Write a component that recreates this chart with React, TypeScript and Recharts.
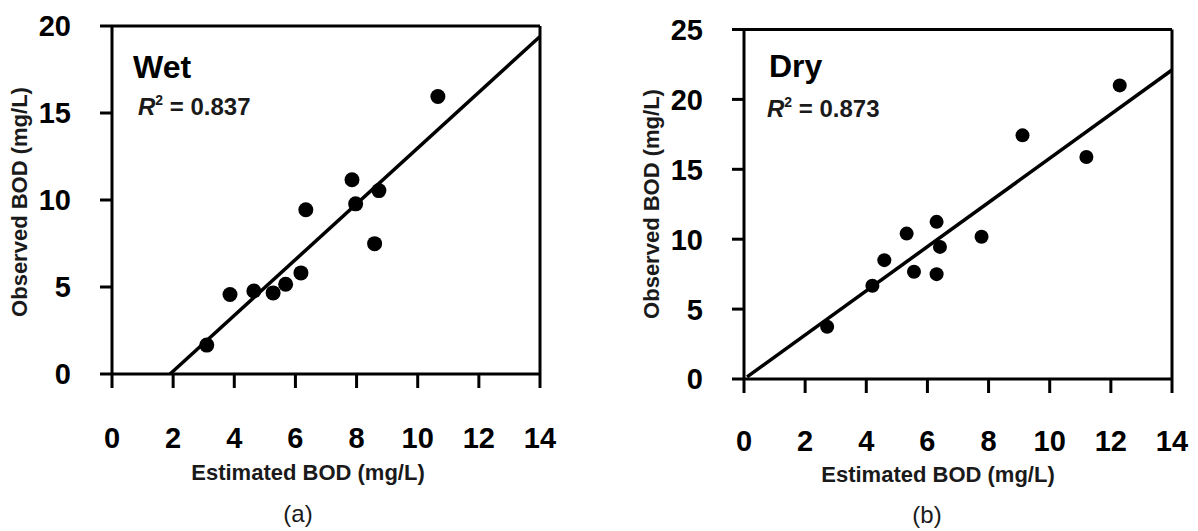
import { ScatterChart, Scatter, XAxis, YAxis, ReferenceLine } from "recharts";

const xTicks = [0, 2, 4, 6, 8, 10, 12, 14];
const wetYTicks = [0, 5, 10, 15, 20];
const dryYTicks = [0, 5, 10, 15, 20, 25];

const wetEstimated = [3.1, 3.86, 4.64, 5.27, 5.68, 6.18, 6.34, 7.85, 7.97, 8.73, 8.59, 10.66];
const wetObserved = [1.66, 4.57, 4.77, 4.66, 5.16, 5.81, 9.44, 11.16, 9.78, 10.54, 7.49, 15.95];

const dryEstimated = [2.72, 4.2, 4.59, 5.56, 6.3, 5.32, 6.3, 6.41, 7.77, 9.11, 11.2, 12.29];
const dryObserved = [3.74, 6.67, 8.5, 7.67, 7.5, 10.4, 11.24, 9.45, 10.17, 17.43, 15.88, 21.0];

// fitted line end points
const wetFit = [
  { x: 1.9, y: 0 },
  { x: 14, y: 19.4 },
];
const dryFit = [
  { x: 0.1, y: 0.15 },
  { x: 14, y: 22.1 },
];

const FONT = "'Liberation Sans', Arial, Helvetica, sans-serif";
const TICK_SIZE = 29;

const XTick = ({ x, y, payload }: any) => (
  <text
    x={x}
    y={y + TICK_SIZE * 0.72}
    textAnchor="middle"
    fontFamily={FONT}
    fontWeight={700}
    fontSize={TICK_SIZE}
    fill="#000"
  >
    {payload.value}
  </text>
);

const YTick = ({ x, y, payload }: any) => (
  <text
    x={x}
    y={y + TICK_SIZE * 0.36}
    textAnchor="end"
    fontFamily={FONT}
    fontWeight={700}
    fontSize={TICK_SIZE}
    fill="#000"
  >
    {payload.value}
  </text>
);

type PanelProps = {
  left: number;
  width: number;
  yAxisWidth: number;
  marginTop: number;
  marginBottom: number;
  xTickMargin: number;
  yMax: number;
  yTicks: number[];
  estimated: number[];
  observed: number[];
  fit: { x: number; y: number }[];
  dotR: number;
  name: string;
  r2: string;
  caption: string;
  nameX: number;
  nameY: number;
  r2X: number;
  r2Y: number;
  titleX: number;
  titleY: number;
  yTitleX: number;
  yTitleY: number;
  captionX: number;
  captionY: number;
};

const Panel = (p: PanelProps) => {
  const data = p.estimated.map((x, i) => ({ x, y: p.observed[i] }));
  const axisStyle = { stroke: "#000", strokeWidth: 3 };
  return (
    <div style={{ position: "absolute", left: p.left, top: 0 }}>
      <ScatterChart
        width={p.width}
        height={531}
        margin={{ top: p.marginTop, right: p.width - 428 - p.yAxisWidth, bottom: p.marginBottom, left: 0 }}
      >
        <XAxis
          type="number"
          dataKey="x"
          domain={[0, 14]}
          ticks={xTicks}
          interval={0}
          height={100}
          axisLine={axisStyle}
          tickLine={axisStyle}
          tickSize={14}
          tickMargin={p.xTickMargin}
          tick={<XTick />}
        />
        <YAxis
          type="number"
          dataKey="y"
          domain={[0, p.yMax]}
          ticks={p.yTicks}
          interval={0}
          width={p.yAxisWidth}
          axisLine={axisStyle}
          tickLine={axisStyle}
          tickSize={12}
          tickMargin={29}
          tick={<YTick />}
        />
        <ReferenceLine y={p.yMax} stroke="#000" strokeWidth={3} />
        <ReferenceLine x={14} stroke="#000" strokeWidth={3} />
        <ReferenceLine segment={p.fit} stroke="#000" strokeWidth={3.5} />
        <Scatter
          data={data}
          isAnimationActive={false}
          shape={(s: any) => <circle cx={s.cx} cy={s.cy} r={p.dotR} fill="#000" />}
        />
        <text x={p.nameX} y={p.nameY} fontFamily={FONT} fontWeight={700} fontSize={32} fill="#000">
          {p.name}
        </text>
        <text x={p.r2X} y={p.r2Y} fontFamily={FONT} fontWeight={700} fontSize={24} fill="#1a1a1a">
          <tspan fontStyle="italic">R</tspan>
          <tspan dy={-10} fontSize={14}>2</tspan>
          <tspan dy={10}> = {p.r2}</tspan>
        </text>
        <text
          x={p.titleX}
          y={p.titleY}
          textAnchor="middle"
          fontFamily={FONT}
          fontWeight={700}
          fontSize={22}
          fill="#1a1a1a"
        >
          Estimated BOD (mg/L)
        </text>
        <text
          x={p.yTitleX}
          y={p.yTitleY}
          textAnchor="middle"
          transform={`rotate(-90, ${p.yTitleX}, ${p.yTitleY})`}
          fontFamily={FONT}
          fontWeight={700}
          fontSize={22}
          fill="#1a1a1a"
        >
          Observed BOD (mg/L)
        </text>
        <text x={p.captionX} y={p.captionY} textAnchor="middle" fontFamily={FONT} fontSize={24} fill="#1a1a1a">
          {p.caption}
        </text>
      </ScatterChart>
    </div>
  );
};

export default function App() {
  return (
    <div style={{ position: "absolute", left: 0, top: 0, width: 1198, height: 531, background: "#fff" }}>
      <Panel
        left={0}
        width={600}
        yAxisWidth={112}
        marginTop={26}
        marginBottom={57}
        xTickMargin={39}
        yMax={20}
        yTicks={wetYTicks}
        estimated={wetEstimated}
        observed={wetObserved}
        fit={wetFit}
        dotR={7.5}
        name="Wet"
        r2="0.837"
        caption="(a)"
        nameX={133}
        nameY={78}
        r2X={138}
        r2Y={115}
        titleX={308}
        titleY={480}
        yTitleX={27}
        yTitleY={202}
        captionX={298}
        captionY={522}
      />
      <Panel
        left={600}
        width={598}
        yAxisWidth={144}
        marginTop={29.5}
        marginBottom={52}
        xTickMargin={37}
        yMax={25}
        yTicks={dryYTicks}
        estimated={dryEstimated}
        observed={dryObserved}
        fit={dryFit}
        dotR={7}
        name="Dry"
        r2="0.873"
        caption="(b)"
        nameX={169}
        nameY={77}
        r2X={167}
        r2Y={117}
        titleX={338}
        titleY={482}
        yTitleX={59}
        yTitleY={204}
        captionX={327}
        captionY={523}
      />
    </div>
  );
}
